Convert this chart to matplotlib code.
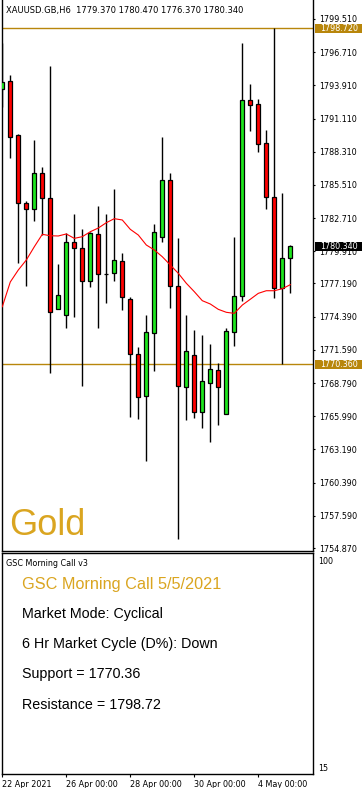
import matplotlib
matplotlib.use('Agg')
import matplotlib.pyplot as plt
import matplotlib.transforms as mtransforms
from matplotlib.patches import Rectangle

# ---------------- data ----------------
opens  = [1793.58, 1794.28, 1789.72, 1783.98, 1783.45, 1786.49, 1784.38, 1775.01, 1774.51, 1780.67,
          1780.16, 1777.37, 1781.37, 1778.02, 1778.05, 1779.09, 1775.86, 1771.21, 1767.67, 1772.99,
          1781.09, 1785.90, 1776.95, 1768.43, 1771.13, 1766.37, 1768.82, 1769.86, 1766.20, 1773.12,
          1776.11, 1792.65, 1792.31, 1789.02, 1784.46, 1776.78, 1779.37]
highs  = [1797.48, 1794.78, 1789.81, 1784.15, 1789.30, 1787.05, 1795.54, 1778.83, 1781.43, 1783.05,
          1781.79, 1781.56, 1783.73, 1783.05, 1785.16, 1779.76, 1776.02, 1771.81, 1774.53, 1782.21,
          1789.55, 1786.49, 1781.00, 1774.53, 1773.27, 1772.84, 1772.08, 1770.51, 1773.41, 1781.11,
          1797.48, 1794.02, 1792.76, 1790.14, 1798.72, 1784.80, 1780.47]
lows   = [1792.08, 1787.81, 1778.94, 1777.00, 1782.49, 1781.28, 1769.61, 1775.01, 1773.46, 1774.39,
          1768.56, 1776.87, 1773.41, 1775.57, 1777.43, 1774.95, 1765.95, 1765.75, 1762.24, 1769.83,
          1780.69, 1775.15, 1755.65, 1765.67, 1765.86, 1765.02, 1763.81, 1765.25, 1766.20, 1771.92,
          1775.74, 1790.08, 1788.31, 1783.50, 1775.99, 1770.36, 1776.37]
closes = [1794.22, 1789.58, 1783.96, 1783.45, 1786.49, 1784.38, 1774.81, 1776.22, 1780.67, 1780.16,
          1777.37, 1781.48, 1777.97, 1778.02, 1779.17, 1776.02, 1771.27, 1767.59, 1773.10, 1781.54,
          1785.90, 1776.95, 1768.56, 1771.47, 1766.37, 1768.94, 1769.97, 1768.48, 1773.18, 1776.13,
          1792.65, 1792.23, 1788.99, 1784.46, 1776.78, 1779.32, 1780.34]
ma_values = [1775.23, 1777.32, 1778.33, 1779.17, 1780.29, 1781.34, 1781.22, 1781.20, 1781.37, 1781.00,
             1781.14, 1781.56, 1781.87, 1782.32, 1782.66, 1782.55, 1781.76, 1781.28, 1780.44, 1780.02,
             1779.45, 1778.75, 1778.05, 1777.21, 1776.50, 1775.74, 1775.46, 1775.01, 1774.76, 1774.67,
             1775.37, 1775.86, 1776.36, 1776.58, 1776.58, 1776.75, 1777.09]

support = 1770.36
resistance = 1798.72
last_price = 1780.34

price_ticks = [1799.51, 1796.71, 1793.91, 1791.11, 1788.31, 1785.51, 1782.71, 1779.91, 1777.19,
               1774.39, 1771.59, 1768.79, 1765.99, 1763.19, 1760.39, 1757.59, 1754.87]
price_tick_labels = ['1799.510', '1796.710', '1793.910', '1791.110', '1788.310', '1785.510', '1782.710',
                     '1779.910', '1777.190', '1774.390', '1771.590', '1768.790', '1765.990', '1763.190',
                     '1760.390', '1757.590', '1754.870']
date_tick_pos = [0, 8, 16, 24, 32]
date_tick_labels = ['22 Apr 2021', '26 Apr 00:00', '28 Apr 00:00', '30 Apr 00:00', '4 May 00:00']
sub_ticks = [100, 15]
sub_tick_labels = ['100', '15']

header = 'XAUUSD.GB,H6  1779.370 1780.470 1776.370 1780.340'
info_title = 'GSC Morning Call 5/5/2021'
info_lines = ['Market Mode: Cyclical', '6 Hr Market Cycle (D%): Down',
              'Support = 1770.36', 'Resistance = 1798.72']

# ---------------- layout ----------------
W, H = 362, 788
fig = plt.figure(figsize=(W / 100, H / 100), dpi=100)
fig.patch.set_facecolor('white')


def px_axes(l, t, r, b):
    return [l / W, 1 - b / H, (r - l) / W, (b - t) / H]


ax = fig.add_axes(px_axes(1.5, 0, 313.3, 551))
sub = fig.add_axes(px_axes(1.5, 553.3, 313.3, 774.3), sharex=None)

TICKFONT = 'DejaVu Sans'
GREEN = '#1EE61E'
RED = '#FF0000'
GOLD_LINE = '#B8860B'
GOLD_TEXT = '#DAA520'

n = len(opens)
idx = list(range(n))
xlim = (-0.1, 38.875)

# wicks
ax.vlines(idx, lows, highs, color='black', linewidth=1.0, zorder=2)
# bodies
body_bottom = [min(o, c) for o, c in zip(opens, closes)]
body_height = [abs(c - o) for o, c in zip(opens, closes)]
body_color = [GREEN if c > o else (RED if c < o else 'black') for o, c in zip(opens, closes)]
ax.bar(idx, body_height, bottom=body_bottom, width=0.5, color=body_color,
       edgecolor='black', linewidth=0.9, zorder=3)
# moving average
ax.plot(idx, ma_values, color='#FF0000', linewidth=0.8, zorder=4)
# support / resistance
ax.axhline(resistance, color=GOLD_LINE, linewidth=1.0, zorder=1)
ax.axhline(support, color=GOLD_LINE, linewidth=1.0, zorder=1)

ax.set_xlim(*xlim)
ax.set_ylim(1754.617, 1801.113)
ax.set_xticks([])
ax.yaxis.tick_right()
ax.set_yticks(price_ticks)
ax.set_yticklabels(price_tick_labels)
ax.tick_params(axis='y', length=1.5, width=0.8, pad=2.8, labelsize=5.8)
for lbl in ax.get_yticklabels():
    lbl.set_family(TICKFONT)
ax.spines['top'].set_visible(False)
for s in ['left', 'right', 'bottom']:
    ax.spines[s].set_linewidth(1.0)

# price boxes on the right axis
btrans = mtransforms.blended_transform_factory(fig.transFigure, ax.transData)
for val, fc in [(resistance, GOLD_LINE), (support, GOLD_LINE), (last_price, 'black')]:
    ax.add_patch(Rectangle((314.5 / W, val - 0.39), 47 / W, 0.78, transform=btrans,
                           facecolor=fc, edgecolor='none', clip_on=False, zorder=10))
    ax.text(320 / W, val, f'{val:.3f}', transform=btrans, color='white', fontsize=5.8,
            family=TICKFONT, va='center', ha='left', clip_on=False, zorder=11)

# header and watermark
fig.text(6 / W, 1 - 10 / H, header, fontsize=6, family=TICKFONT, va='center', ha='left')
fig.text(9 / W, 1 - 535 / H, 'Gold', fontsize=26, family='Liberation Sans', color=GOLD_TEXT,
         va='baseline', ha='left')

# ---------------- sub window ----------------
sub.set_xlim(*xlim)
sub.set_ylim(12.41, 103.08)
sub.yaxis.tick_right()
sub.set_yticks(sub_ticks)
sub.set_yticklabels(sub_tick_labels)
sub.tick_params(axis='y', length=0, pad=3.2, labelsize=5.8)
sub.set_xticks(date_tick_pos)
sub.set_xticklabels(date_tick_labels)
sub.tick_params(axis='x', length=2.2, width=0.8, pad=2.0, labelsize=5.8)
for lbl in sub.get_xticklabels():
    lbl.set_ha('left')
    lbl.set_family(TICKFONT)
for lbl in sub.get_yticklabels():
    lbl.set_family(TICKFONT)
for s in sub.spines.values():
    s.set_linewidth(1.0)

fig.text(6 / W, 1 - 563 / H, 'GSC Morning Call v3', fontsize=5.8, family=TICKFONT,
         va='center', ha='left')
fig.text(22 / W, 1 - 589.3 / H, info_title, fontsize=11.7, family='Liberation Sans',
         color=GOLD_TEXT, va='baseline', ha='left')
for k, line in enumerate(info_lines):
    fig.text(22 / W, 1 - (618.0 + 30.2 * k) / H, line, fontsize=10.25, family='Liberation Sans',
             color='black', va='baseline', ha='left')

fig.savefig('out.png', dpi=100)
